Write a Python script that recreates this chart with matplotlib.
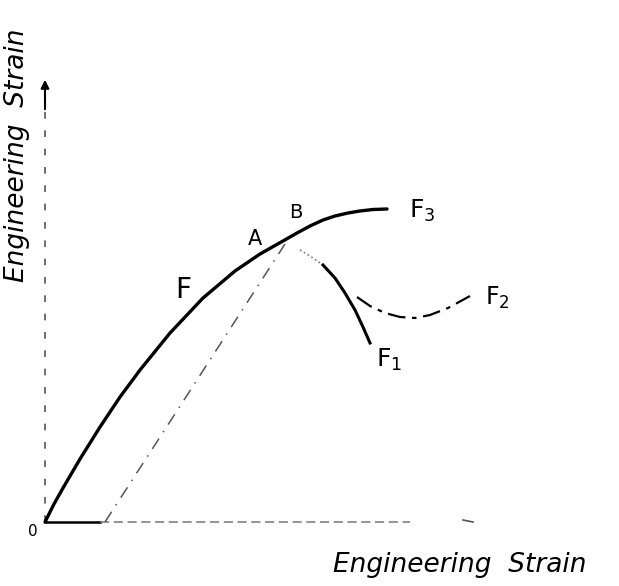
import matplotlib
matplotlib.use("Agg")
import matplotlib.pyplot as plt

# Data (arbitrary units, origin at O)
f_x = [0, 9, 18, 35, 55, 75, 95, 125, 158, 190, 215, 238]
f_y = [0, 18, 34, 63, 95, 125, 152, 189, 224, 251, 268, 281]
f3_x = [238, 252, 265, 278, 290, 303, 315, 328, 342]
f3_y = [281, 289, 296, 302, 306, 309, 311, 312.5, 313]
f1_x = [255, 265, 278, 290, 300, 310, 318, 325]
f1_y = [272, 266, 257, 244, 229, 212, 195, 179]
f2_x = [312, 325, 340, 355, 370, 385, 403, 425]
f2_y = [225, 216, 209, 205, 204, 207, 214, 226]
unload_x = [60, 240]
unload_y = [0, 278]

fig = plt.figure(figsize=(6.19, 5.86), dpi=100)
ax = fig.add_axes([0, 0, 1, 1])
ax.set_xlim(-45, 574)
ax.set_ylim(-64, 522)
ax.axis("off")

# axes
ax.plot([0, 55], [0, 0], color="black", lw=1.8)
ax.plot([55, 365], [0, 0], color="#777777", lw=1.1, ls=(0, (6, 3)))
ax.plot([418, 428], [2, 0], color="#555555", lw=1.2)
ax.plot([0, 0], [0, 425], color="#555555", lw=1.2, ls=(0, (4, 7)))
ax.annotate("", xy=(0, 445), xytext=(0, 410),
            arrowprops=dict(arrowstyle="-|>", color="black", lw=1.5, mutation_scale=12))

# curves
ax.plot(f_x + f3_x[1:], f_y + f3_y[1:], color="black", lw=2.4,
        solid_capstyle="round", solid_joinstyle="round")
ax.plot(f1_x[:3], f1_y[:3], color="#777777", lw=1.2, ls=":")
ax.plot(f1_x[2:], f1_y[2:], color="black", lw=2.2, solid_joinstyle="round")
ax.plot(f2_x, f2_y, color="black", lw=1.6, ls=(0, (8, 3, 2, 3)))
ax.plot(unload_x, unload_y, color="#555555", lw=1.1, ls=(0, (8, 5, 1, 5)))

# labels
ax.text(-12, -10, "0", fontsize=11, ha="center", va="center")
ax.text(138, 232, "F", fontsize=20, ha="center", va="center")
ax.text(210, 283, "A", fontsize=15, ha="center", va="center")
ax.text(251, 309, "B", fontsize=14, ha="center", va="center")
ax.text(377, 311, "F$_3$", fontsize=18, ha="center", va="center")
ax.text(452, 224, "F$_2$", fontsize=17, ha="center", va="center")
ax.text(344, 162, "F$_1$", fontsize=18, ha="center", va="center")
ax.text(-28, 367, "Engineering  Strain", rotation=90, style="italic",
        fontsize=19, ha="center", va="center")
ax.text(415, -43, "Engineering  Strain", style="italic",
        fontsize=19, ha="center", va="center")

fig.savefig("out.png", dpi=100)
